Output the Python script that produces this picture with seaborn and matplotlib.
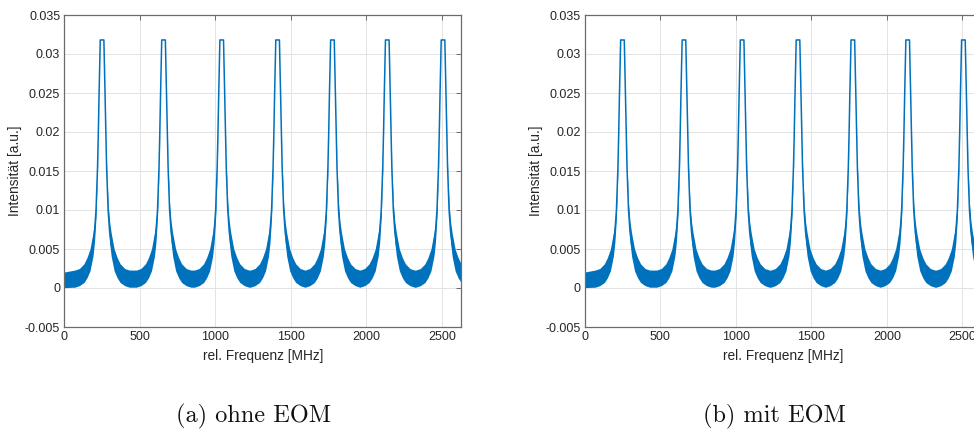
import numpy as np
import pandas as pd
import matplotlib
matplotlib.use("Agg")
import matplotlib.pyplot as plt
import seaborn as sns

# ---- data ----
peak_centers = [250, 657, 1042, 1412, 1775, 2138, 2507]          # MHz
profile_offset = [-180, -150, -120, -100, -80, -60, -50, -40, -30, -25, -20, -12,
                  12, 20, 25, 30, 40, 50, 60, 80, 100, 120, 150, 180]  # MHz from peak
profile_level = [0.0012, 0.0014, 0.0019, 0.0026, 0.0036, 0.0056, 0.0072, 0.0100, 0.0155, 0.0197, 0.0247, 0.0318,
                 0.0318, 0.0247, 0.0197, 0.0155, 0.0100, 0.0072, 0.0056, 0.0036, 0.0026, 0.0019, 0.0014, 0.0012]
profile_noise = [0.0011, 0.0011, 0.0012, 0.0013, 0.0014, 0.0015, 0.0013, 0.0009, 0.0004, 0.0002, 0.0001, 0.0,
                 0.0, 0.0001, 0.0002, 0.0004, 0.0009, 0.0013, 0.0015, 0.0014, 0.0013, 0.0012, 0.0011, 0.0011]
start_freq, start_level, start_noise = 0.0, 0.00105, 0.0010

xticks = [0, 500, 1000, 1500, 2000, 2500]
yticks = [-0.005, 0, 0.005, 0.01, 0.015, 0.02, 0.025, 0.03, 0.035]
ytick_labels = ["-0.005", "0", "0.005", "0.01", "0.015", "0.02", "0.025", "0.03", "0.035"]
captions = ["(a) ohne EOM", "(b) mit EOM"]
xlabel = "rel. Frequenz [MHz]"
ylabel = "Intensität [a.u.]"

# ---- build trace table ----
freq, level, noise = [start_freq], [start_level], [start_noise]
for c in peak_centers:
    for o, l, n in zip(profile_offset, profile_level, profile_noise):
        freq.append(c + o)
        level.append(l)
        noise.append(n)
df = pd.DataFrame({"freq": freq, "intensity": level, "noise": noise})
df["lo"] = df["intensity"] - df["noise"]
df["hi"] = df["intensity"] + df["noise"]

sns.set_theme(style="white")
plt.rcParams['font.family'] = ['Liberation Sans', 'DejaVu Sans']

blue = "#0072BD"
fig = plt.figure(figsize=(9.74, 4.29), dpi=100)
W, H = 974, 429
ax_w, ax_h = 397, 312
lefts = [64.3, 584.7]
top = 15

for left, cap in zip(lefts, captions):
    ax = fig.add_axes([left / W, (H - top - ax_h) / H, ax_w / W, ax_h / H])
    ax.fill_between(df["freq"], df["lo"], df["hi"], color=blue, lw=0)
    sns.lineplot(data=df, x="freq", y="intensity", ax=ax, color=blue, lw=1.1,
                 sort=False, estimator=None)
    ax.set_xlim(0, 2628)
    ax.set_ylim(-0.005, 0.035)
    ax.set_xticks(xticks)
    ax.set_xticklabels([str(t) for t in xticks])
    ax.set_yticks(yticks)
    ax.set_yticklabels(ytick_labels)
    ax.grid(True, color="#e3e3e3", lw=0.7)
    ax.set_axisbelow(True)
    ax.tick_params(direction="in", length=3.5, width=0.7, top=True, right=True,
                   labelsize=9, colors="#6b6b6b", labelcolor="#262626", pad=3)
    for s in ax.spines.values():
        s.set_color("#6b6b6b")
        s.set_linewidth(0.9)
    ax.set_xlabel(xlabel, fontsize=9.9, color="#262626", labelpad=4)
    ax.set_ylabel(ylabel, fontsize=9.9, color="#262626", labelpad=2)
    cx = (left + ax_w / 2 - 9) / W
    fig.text(cx, 1 - 416 / H, cap, family="cmr10", fontsize=17.5,
             ha="center", va="center", color="#111111")

fig.savefig("out.png", dpi=100)
